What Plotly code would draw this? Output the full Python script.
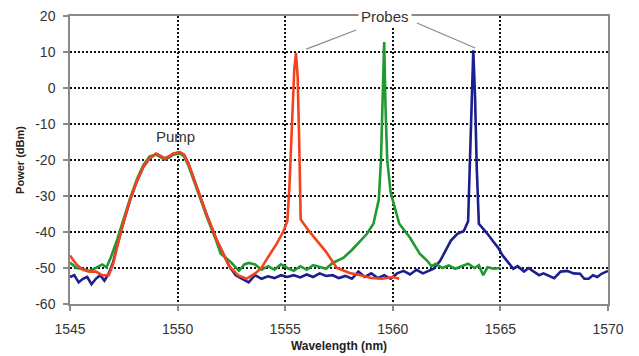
import plotly.graph_objects as go

# ---- data ----
red_x = [1545.0, 1545.3, 1545.6, 1545.9, 1546.2, 1546.5, 1546.8, 1547.0, 1547.2, 1547.5, 1547.8,
         1548.1, 1548.4, 1548.7, 1549.0, 1549.2, 1549.4, 1549.6, 1549.8, 1550.1, 1550.3, 1550.5,
         1550.8, 1551.1, 1551.4, 1551.8, 1552.1, 1552.4, 1552.8, 1553.2, 1553.6, 1553.9, 1554.2,
         1554.6, 1554.9, 1555.1, 1555.2, 1555.3, 1555.42, 1555.5, 1555.58, 1555.64, 1555.68,
         1555.72, 1556.1, 1556.5, 1556.9, 1557.4, 1558.0, 1558.5, 1559.0, 1559.5, 1560.0, 1560.3]
red_y = [-46.5, -49.0, -50.5, -51.0, -51.0, -52.0, -52.0, -49.0, -44.0, -37.0, -31.0,
         -26.0, -22.0, -19.5, -18.2, -18.8, -19.5, -19.0, -18.2, -17.8, -18.5, -21.0,
         -26.0, -31.0, -36.0, -42.0, -46.0, -49.5, -52.0, -53.0, -51.5, -50.0, -47.0,
         -43.3, -40.0, -37.0, -27.0, -10.0, 5.0, 9.7, 3.0, -12.0, -28.0,
         -36.5, -39.7, -42.5, -45.5, -50.0, -51.4, -52.0, -52.8, -53.0, -52.5, -53.0]

green_x = [1545.0, 1545.3, 1545.6, 1545.9, 1546.2, 1546.5, 1546.7, 1546.9, 1547.2, 1547.5, 1547.8,
           1548.1, 1548.4, 1548.7, 1549.0, 1549.2, 1549.4, 1549.6, 1549.8, 1550.1, 1550.3, 1550.5,
           1550.8, 1551.1, 1551.4, 1551.8, 1552.0, 1552.25, 1552.5, 1552.85, 1553.1, 1553.3, 1553.6,
           1553.9, 1554.2, 1554.5, 1554.8, 1555.1, 1555.4, 1555.7, 1556.0, 1556.3, 1556.6, 1556.9,
           1557.2, 1557.7, 1558.1, 1558.5, 1558.8, 1559.1, 1559.35, 1559.45, 1559.52, 1559.6,
           1559.66, 1559.74, 1559.9, 1560.1, 1560.3, 1560.8, 1561.25, 1561.6, 1561.8, 1562.0,
           1562.3, 1562.6, 1562.9, 1563.2, 1563.5, 1563.8, 1564.0, 1564.2, 1564.4, 1564.7, 1565.0]
green_y = [-48.5, -50.0, -50.3, -50.8, -50.0, -49.0, -49.8, -47.0, -42.0, -36.0, -30.5,
           -25.5, -21.5, -19.0, -18.5, -19.2, -19.8, -19.3, -18.5, -18.2, -19.0, -21.5,
           -26.5, -31.5, -36.5, -42.5, -46.0, -47.2, -48.5, -50.8, -49.0, -48.6, -49.0,
           -50.5, -49.5, -50.5, -49.0, -50.0, -50.8, -49.5, -50.5, -49.2, -49.8, -50.2,
           -48.6, -47.2, -45.0, -42.4, -40.5, -37.7, -31.0, -20.0, -5.0, 12.8,
           -5.0, -20.0, -29.0, -33.0, -37.7, -41.6, -46.0, -48.0, -49.5, -48.8,
           -50.0, -49.3, -50.2, -49.5, -48.8, -50.0, -49.2, -52.0, -49.8, -50.2, -50.0]

blue_x = [1545.0, 1545.2, 1545.4, 1545.6, 1545.8, 1546.0, 1546.2, 1546.4, 1546.6, 1546.8, 1547.0,
          1547.2, 1547.5, 1547.8, 1548.1, 1548.4, 1548.7, 1549.0, 1549.2, 1549.4, 1549.6, 1549.8,
          1550.1, 1550.3, 1550.5, 1550.8, 1551.1, 1551.4, 1551.8, 1552.1, 1552.4, 1552.7, 1553.0,
          1553.3, 1553.6, 1553.9, 1554.2, 1554.5, 1554.8, 1555.1, 1555.4, 1555.7, 1556.0, 1556.3,
          1556.6, 1556.9, 1557.2, 1557.5, 1557.8, 1558.1, 1558.4, 1558.7, 1559.0, 1559.3, 1559.6,
          1559.9, 1560.2, 1560.5, 1560.8, 1561.1, 1561.4, 1561.7, 1561.9, 1562.2, 1562.5, 1562.7,
          1563.0, 1563.3, 1563.5, 1563.58, 1563.65, 1563.74, 1563.82, 1563.9, 1564.0, 1564.2,
          1564.4, 1564.65, 1564.9, 1565.1, 1565.3, 1565.6, 1565.8, 1566.1, 1566.3, 1566.5, 1566.8,
          1567.0, 1567.3, 1567.5, 1567.8, 1568.1, 1568.4, 1568.7, 1568.9, 1569.1, 1569.3, 1569.5,
          1569.7, 1570.0]
blue_y = [-52.5, -52.0, -54.0, -53.0, -52.5, -54.5, -53.0, -52.0, -53.5, -51.5, -48.5,
          -43.5, -37.0, -31.0, -26.0, -22.0, -19.5, -18.3, -18.9, -19.6, -19.1, -18.3,
          -17.9, -18.6, -21.0, -26.0, -31.0, -36.0, -42.0, -46.0, -49.5, -52.0, -53.0,
          -54.0, -52.0, -53.0, -52.3, -52.8, -52.0, -52.5, -52.0, -52.6, -51.8, -52.5,
          -51.5, -52.2, -52.0, -52.8, -52.2, -53.0, -51.0, -52.5, -51.5, -52.8, -52.0,
          -53.0, -51.5, -50.8, -51.8, -50.5, -51.5, -50.8, -50.2, -48.0, -44.5, -42.4,
          -40.5, -39.7, -37.0, -20.0, -2.0, 10.5, -2.0, -22.0, -37.7, -39.0,
          -40.5, -42.5, -44.4, -46.5, -48.0, -50.2, -49.5, -51.0, -50.0, -50.8, -52.0,
          -51.5, -52.3, -52.8, -51.0, -50.8, -51.5, -51.6, -53.0, -53.0, -52.0, -52.5,
          -51.6, -50.8]

x_ticks = [1545, 1550, 1555, 1560, 1565, 1570]
y_ticks = [-60, -50, -40, -30, -20, -10, 0, 10, 20]

FONT = "Liberation Sans, Arial, sans-serif"

fig = go.Figure()
for xs, ys, col in [(blue_x, blue_y, "#1c1f8e"), (green_x, green_y, "#1f9a30"), (red_x, red_y, "#f4421f")]:
    fig.add_trace(go.Scatter(x=xs, y=ys, mode="lines", line=dict(color=col, width=2.6),
                             showlegend=False, hoverinfo="skip"))

axis_common = dict(showline=True, linecolor="#8a8a8a", linewidth=1.5, mirror=True,
                   showgrid=True, gridcolor="#111111", griddash="2px,2px", gridwidth=1.8,
                   zeroline=False, ticks="outside", ticklen=5, tickcolor="#8a8a8a", tickwidth=1.5,
                   automargin=False,
                   tickfont=dict(family=FONT, size=14, color="#333333"))

fig.update_layout(
    width=639, height=356,
    margin=dict(l=70, r=31, t=16, b=52),
    paper_bgcolor="white", plot_bgcolor="white",
    xaxis=dict(range=[1545, 1570], tickvals=x_ticks, ticktext=[str(v) for v in x_ticks],
               ticklabelstandoff=6,
               title=dict(text="<b>Wavelength (nm)</b>", standoff=6,
                          font=dict(family=FONT, size=12, color="#222222")),
               **axis_common),
    yaxis=dict(range=[-60, 20], tickvals=y_ticks, ticktext=[str(v) for v in y_ticks],
               ticklabelstandoff=5,
               title=dict(text="<b>Power (dBm)</b>", standoff=8,
                          font=dict(family=FONT, size=11, color="#222222")),
               **axis_common),
)

fig.add_annotation(x=1549.9, y=-13.4, text="Pump", showarrow=False,
                   font=dict(family=FONT, size=15, color="#333333"))
fig.add_annotation(x=1559.64, y=20, text="Probes", showarrow=False, bgcolor="white", borderpad=2,
                   font=dict(family=FONT, size=15, color="#333333"))
fig.add_shape(type="line", x0=1558.3, y0=16.1, x1=1555.98, y1=10.8, line=dict(color="#8a8a8a", width=1.2))
fig.add_shape(type="line", x0=1561.12, y0=18.05, x1=1563.83, y1=11.1, line=dict(color="#8a8a8a", width=1.2))

fig.write_html("out.html", config={"displayModeBar": False},
               post_script="document.body.style.margin='0';document.body.style.overflow='hidden';")
